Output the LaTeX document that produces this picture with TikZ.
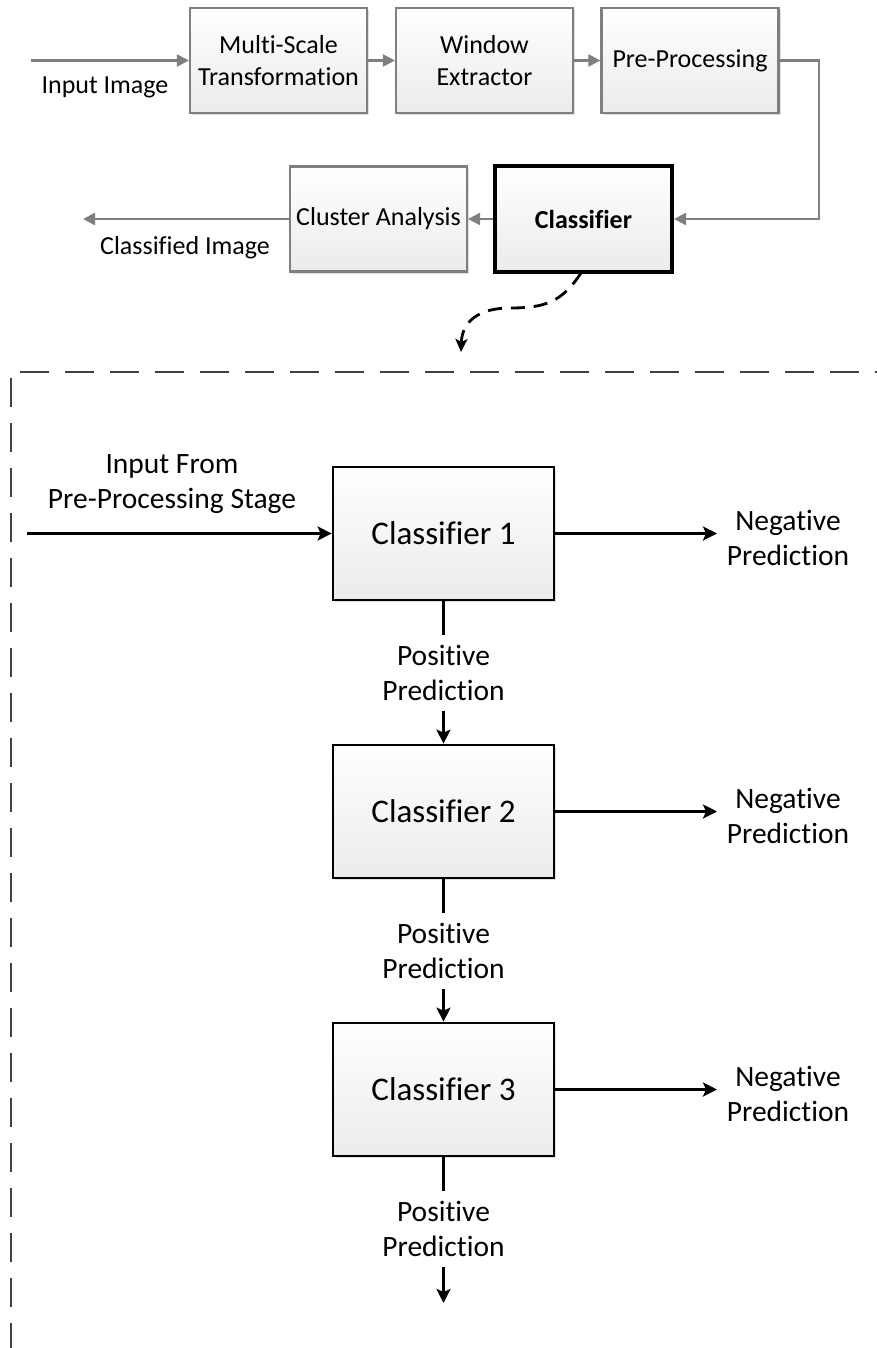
\documentclass[tikz,border=0pt]{standalone}
\usepackage{fontspec}
\setmainfont{Carlito}[Ligatures=NoCommon]
\usetikzlibrary{arrows.meta,shadows,calc}
\definecolor{topgray}{HTML}{7F7F7F}
\definecolor{framegray}{HTML}{404040}
\definecolor{boxbottom}{HTML}{EBEBEB}
\tikzset{
  topbox/.style={draw=topgray, line width=2.2pt, top color=white, bottom color=boxbottom,
    minimum width=177pt, minimum height=105pt, inner sep=0pt, align=center,
    font=\fontsize{26}{32}\selectfont,
    drop shadow={shadow xshift=2pt, shadow yshift=-2pt, opacity=0.25, fill=gray}},
  boldbox/.style={topbox, draw=black, line width=4pt, font=\fontsize{26}{32}\selectfont\bfseries},
  clsbox/.style={draw=black, line width=2.7pt, top color=white, bottom color=boxbottom,
    minimum width=221pt, minimum height=133pt, inner sep=0pt,
    font=\fontsize{33}{40}\selectfont,
    drop shadow={shadow xshift=2pt, shadow yshift=-2pt, opacity=0.25, fill=gray}},
  toplabel/.style={font=\fontsize{26}{32}\selectfont, align=center, inner sep=0pt},
  botlabel/.style={font=\fontsize{29.5}{35}\selectfont, align=center, inner sep=0pt},
  poslabel/.style={botlabel, inner ysep=10pt},
  grayarrow/.style={draw=topgray, line width=2.2pt, -{Triangle[length=12pt,width=12pt]}},
  grayline/.style={draw=topgray, line width=2.2pt},
  blackarrow/.style={draw=black, line width=2.7pt, -{Stealth[length=14pt,width=14pt,inset=3pt]}},
  blackline/.style={draw=black, line width=2.7pt},
  framedash/.style={draw=framegray, line width=2.3pt, dash pattern=on 29pt off 16pt},
}
\begin{document}
\begin{tikzpicture}[x=1pt,y=-1pt]
\useasboundingbox (0,0) rectangle (876,1348);

% top pipeline
\node[topbox] (ms) at (278.5,60.5) {Multi-Scale\\Transformation};
\node[topbox] (we) at (484.5,60.5) {Window\\Extractor};
\node[topbox] (pp) at (690,60.5) {Pre-Processing};
\node[boldbox] (cl) at (583.5,219) {Classifier};
\node[topbox] (ca) at (378.5,219) {Cluster Analysis};

\coordinate (inA) at (31,60.5);
\coordinate (outA) at (83,219);
\node[toplabel] (inlbl) at (105,87) {Input Image};
\node[toplabel] (outlbl) at (185,248) {Classified Image};

\draw[grayarrow] (inA) -- (ms.west);
\draw[grayarrow] (ms.east) -- (we.west);
\draw[grayarrow] (we.east) -- (pp.west);
\draw[grayarrow] (pp.east) -- ++(39,0) |- (cl.east);
\draw[grayarrow] (cl.west) -- (ca.east);
\draw[grayarrow] (ca.west) -- (outA);

% dashed curved arrow
\coordinate (dend) at (461,352);
\draw[line width=2.8pt, dash pattern=on 14pt off 9pt, -{Stealth[length=13pt,width=12pt,inset=3pt]}]
  (581,273) .. controls (562,302) and (545,308) .. (510,308)
  .. controls (478,308) and (462,322) .. (dend);

% dashed frame
\draw[framedash] (20,372) -- (880,372);
\draw[framedash] (11,378) -- (11,1352);

% classifier cascade
\node[clsbox] (c1) at (443.5,533.5) {Classifier 1};
\node[clsbox] (c2) at (443.5,811.5) {Classifier 2};
\node[clsbox] (c3) at (443.5,1089.5) {Classifier 3};

\coordinate (inB) at (27,533.5);
\node[botlabel] (inlblB) at (172,484) {Input From\\Pre-Processing Stage};
\draw[blackarrow] (inB) -- (c1.west);

\foreach \c/\y in {c1/533.5,c2/811.5,c3/1089.5}{
  \coordinate (\c neg) at (717,\y);
  \node[botlabel] (\c nl) at (788,\y+4) {Negative\\Prediction};
  \draw[blackarrow] (\c.east) -- (\c neg);
}

\node[poslabel] (p1) at (443.5,673) {Positive\\Prediction};
\node[poslabel] (p2) at (443.5,951) {Positive\\Prediction};
\node[poslabel] (p3) at (443.5,1229) {Positive\\Prediction};
\coordinate (pend) at (443.5,1303);

\draw[blackline] (c1.south) -- (p1.north);
\draw[blackarrow] (p1.south) -- (c2.north);
\draw[blackline] (c2.south) -- (p2.north);
\draw[blackarrow] (p2.south) -- (c3.north);
\draw[blackline] (c3.south) -- (p3.north);
\draw[blackarrow] (p3.south) -- (pend);
\end{tikzpicture}
\end{document}
